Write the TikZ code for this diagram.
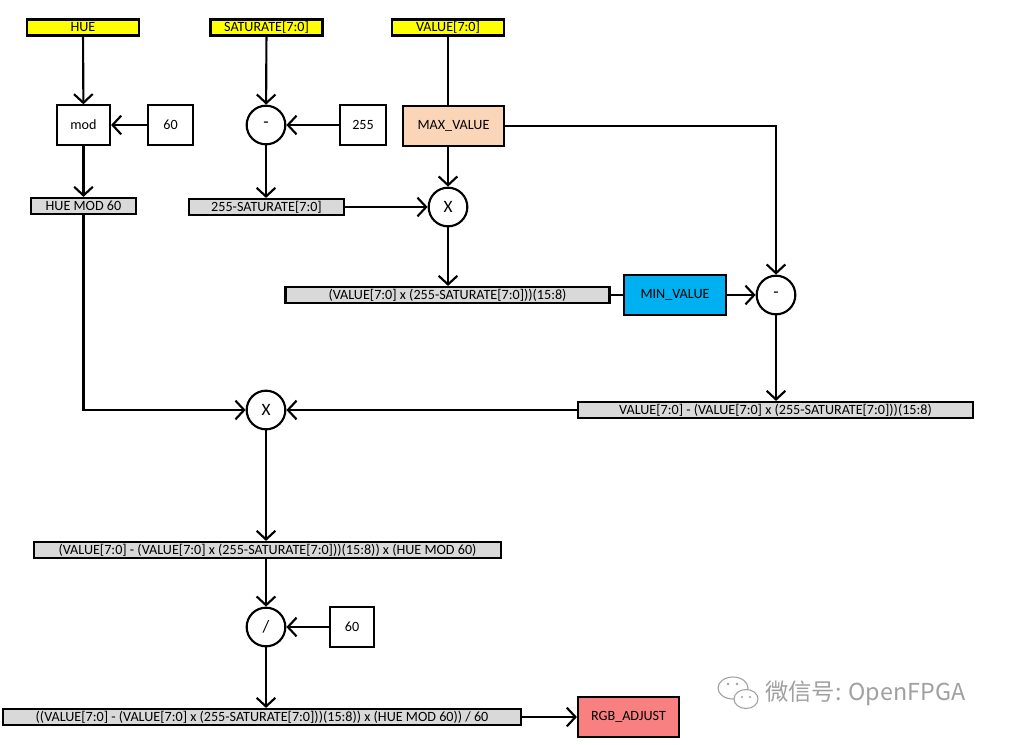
\documentclass[tikz,border=0pt]{standalone}
\usepackage{fontspec}
\setmainfont{Carlito}
\newfontfamily\cjk{Noto Sans CJK SC}
\usetikzlibrary{arrows.meta}
\definecolor{inyel}{HTML}{FFFF00}
\definecolor{siggray}{HTML}{D9D9D9}
\definecolor{maxc}{HTML}{FAD5B8}
\definecolor{minc}{HTML}{00B0F0}
\definecolor{rgbc}{HTML}{F88080}
\definecolor{wmgray}{HTML}{A0A0A0}
\begin{document}
\begin{tikzpicture}[x=0.75pt,y=-0.75pt,
  line width=1.6pt,
  every node/.style={font=\fontsize{10.6}{12}\selectfont, inner sep=0pt, line width=1.6pt},
  inbox/.style={draw, fill=inyel, minimum width=84pt, minimum height=12pt},
  sigbox/.style={draw, fill=siggray, minimum height=12pt},
  opbox/.style={draw, fill=white, minimum height=29.5pt},
  opcirc/.style={draw, circle, fill=white, minimum size=29pt, font=\fontsize{13}{13}\selectfont},
  conn/.style={-{Straight Barb[length=6.5pt,width=14pt,line width=1.6pt]}}
]
\useasboundingbox (0,0) rectangle (1011,744);
% inputs
\node[inbox] (hue) at (83,27.5) {HUE};
\node[inbox] (sat) at (266.5,27.5) {SATURATE[7:0]};
\node[inbox] (val) at (448,27.5) {VALUE[7:0]};
% first row
\node[opbox, minimum width=39.75pt] (mod) at (83.5,125) {mod};
\node[opbox, minimum width=33.75pt] (c60a) at (170.5,125) {60};
\node[opcirc] (sub1) at (266,125) {-};
\node[opbox, minimum width=34.5pt] (c255) at (363,125) {255};
\node[opbox, fill=maxc, minimum width=75.75pt] (maxv) at (453.5,126) {MAX\_VALUE};
% signals
\node[sigbox, minimum width=78.75pt] (huemod) at (83.5,206) {HUE MOD 60};
\node[sigbox, minimum width=116.25pt] (satinv) at (266.5,207) {255-SATURATE[7:0]};
\node[opcirc] (mul1) at (448,207) {X};
\node[sigbox, minimum width=243pt] (prod) at (447.5,295) {(VALUE[7:0] x (255-SATURATE[7:0]))(15:8)};
\node[opbox, fill=minc, minimum width=76.5pt] (minv) at (675,295) {MIN\_VALUE};
\node[opcirc] (sub2) at (776,295) {-};
\node[sigbox, minimum width=296.25pt] (diff) at (775.5,410) {VALUE[7:0] - (VALUE[7:0] x (255-SATURATE[7:0]))(15:8)};
\node[opcirc] (mul2) at (266,410) {X};
\node[sigbox, minimum width=350.25pt] (prod2) at (267.5,550) {(VALUE[7:0] - (VALUE[7:0] x (255-SATURATE[7:0]))(15:8)) x (HUE MOD 60)};
\node[opcirc] (div) at (266,627) {/};
\node[opbox, minimum width=33pt] (c60b) at (352,627) {60};
\node[sigbox, minimum width=388.5pt] (res) at (262,717) {((VALUE[7:0] - (VALUE[7:0] x (255-SATURATE[7:0]))(15:8)) x (HUE MOD 60)) / 60};
\node[opbox, fill=rgbc, minimum width=75.75pt] (rgb) at (628.5,717) {RGB\_ADJUST};
% connectors
\draw[conn] (hue) -- (mod);
\draw[conn] (c60a) -- (mod);
\draw[conn] (mod) -- (huemod);
\draw[conn] (sat) -- (sub1);
\draw[conn] (c255) -- (sub1);
\draw[conn] (sub1) -- (sub1 |- satinv.north);
\draw (val) -- (val |- maxv.north);
\draw[conn] (maxv.south -| mul1) -- (mul1);
\draw[conn] (satinv) -- (mul1);
\draw[conn] (mul1) -- (mul1 |- prod.north);
\draw (prod) -- (minv);
\draw[conn] (minv) -- (sub2);
\draw[conn] (maxv) -| (sub2);
\draw[conn] (sub2) -- (sub2 |- diff.north);
\draw[conn] (diff) -- (mul2);
\draw[conn] (huemod) |- (mul2);
\draw[conn] (mul2) -- (mul2 |- prod2.north);
\draw[conn] (prod2.south -| div) -- (div);
\draw[conn] (c60b) -- (div);
\draw[conn] (div) -- (div |- res.north);
\draw[conn] (res) -- (rgb);
% watermark
\begin{scope}[line width=0.8pt, draw=wmgray]
\draw[fill=white] (733,688) ellipse [x radius=15, y radius=11];
\draw[fill=white] (746,699) ellipse [x radius=12, y radius=9.5];
\fill[wmgray] (728,684) circle [radius=1.3] (737,684) circle [radius=1.3]
  (742,697) circle [radius=1.1] (750,697) circle [radius=1.1];
\end{scope}
\node[text=wmgray, font=\cjk\fontsize{17.5}{17.5}\selectfont, anchor=west] (wm) at (764,693) {微信号: OpenFPGA};
\end{tikzpicture}
\end{document}
